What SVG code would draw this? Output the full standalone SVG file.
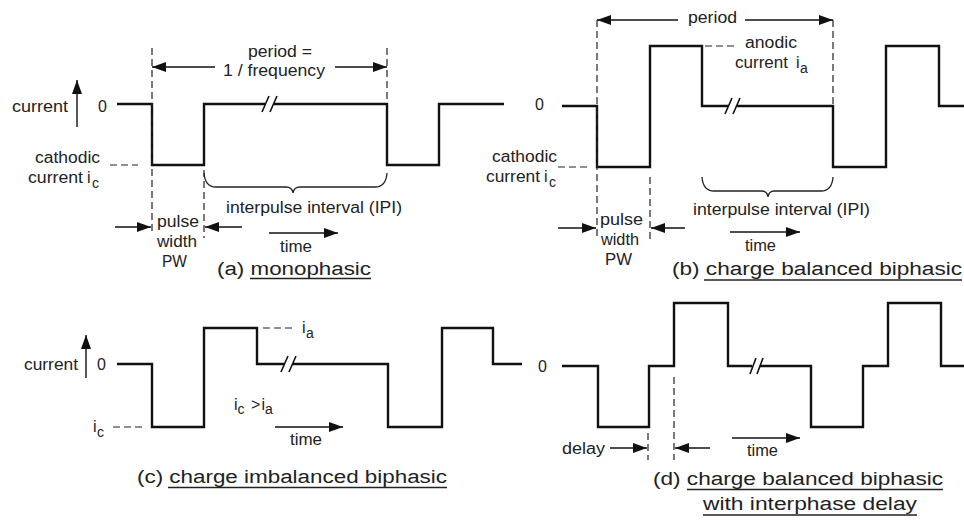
<svg xmlns="http://www.w3.org/2000/svg" width="964" height="522" viewBox="0 0 964 522">
<defs>
<marker id="ah" markerUnits="userSpaceOnUse" markerWidth="14" markerHeight="10" refX="14" refY="5" orient="auto">
<path d="M0,0 L14,5 L0,10 z" fill="#111"/>
</marker>
</defs>
<style>
.wave{fill:none;stroke:#111;stroke-width:2.4;stroke-linejoin:miter}
.brk{fill:none;stroke:#111;stroke-width:1.6}
.dash{fill:none;stroke:#222;stroke-width:1.2;stroke-dasharray:7 4}
.arr{fill:none;stroke:#111;stroke-width:1.4;marker-end:url(#ah)}
.brace{fill:none;stroke:#222;stroke-width:1.3}
.ul{stroke:#222;stroke-width:1.3}
text{font-family:"Liberation Sans",Arial,sans-serif;fill:#222}
.s{font-size:16px}
.sub{font-size:14px}
.lab{font-size:18px}
</style>
<rect width="964" height="522" fill="#fff"/>

<g id="panel-a">
<path class="wave" d="M117,104 H152 V165 H204 V104 H265 M274,104 H387 V165 H439 V104 H504"/>
<path class="brk" d="M262,112 L269,96 M270,112 L277,96"/>
<path class="dash" d="M152,48 V233 M387,48 V100 M204,170 V238 M110,165 H138"/>
<path class="brace" d="M204,173 Q205,187 216,187 H286 Q292,187 293,193 Q294,187 300,187 H375 Q386,187 387,173"/>
<text class="s" x="12" y="112" textLength="56" lengthAdjust="spacingAndGlyphs">current</text>
<text class="s" x="98" y="112">0</text>
<text class="s" x="248" y="57" textLength="64" lengthAdjust="spacingAndGlyphs">period =</text>
<text class="s" x="223" y="76" textLength="102" lengthAdjust="spacingAndGlyphs">1 / frequency</text>
<text class="s" x="35" y="163" textLength="65" lengthAdjust="spacingAndGlyphs">cathodic</text>
<text class="s" x="28" y="183" textLength="55" lengthAdjust="spacingAndGlyphs">current</text>
<text class="s" x="87" y="183">i</text>
<text class="sub" x="92" y="188">c</text>
<text class="s" x="226" y="213" textLength="176" lengthAdjust="spacingAndGlyphs">interpulse interval (IPI)</text>
<text class="s" x="157" y="227" textLength="42" lengthAdjust="spacingAndGlyphs">pulse</text>
<text class="s" x="157" y="247" textLength="40" lengthAdjust="spacingAndGlyphs">width</text>
<text class="s" x="162" y="267" textLength="25" lengthAdjust="spacingAndGlyphs">PW</text>
<text class="s" x="280" y="252" textLength="32" lengthAdjust="spacingAndGlyphs">time</text>
<text class="lab" x="217" y="275" textLength="154" lengthAdjust="spacingAndGlyphs">(a) monophasic</text>
<line class="ul" x1="250" y1="278.5" x2="371" y2="278.5"/>
</g>

<g id="panel-b">
<path class="wave" d="M562,106 H597 V167 H650 V46 H702 V106 H728 M737,106 H833 V167 H886 V46 H939 V106 H964"/>
<path class="brk" d="M725,114 L732,98 M733,114 L740,98"/>
<path class="dash" d="M597,20 V240 M833,20 V106 M650,177 V240 M558,167 H588 M705,46 H737"/>
<path class="brace" d="M702,177 Q703,191 714,191 H762 Q767,191 768,197 Q769,191 774,191 H821 Q832,191 833,177"/>
<text class="s" x="688" y="23" textLength="49" lengthAdjust="spacingAndGlyphs">period</text>
<text class="s" x="745" y="48" textLength="52" lengthAdjust="spacingAndGlyphs">anodic</text>
<text class="s" x="735" y="68" textLength="53" lengthAdjust="spacingAndGlyphs">current</text>
<text class="s" x="796" y="68">i</text>
<text class="sub" x="800" y="73">a</text>
<text class="s" x="535" y="110">0</text>
<text class="s" x="492" y="162" textLength="65" lengthAdjust="spacingAndGlyphs">cathodic</text>
<text class="s" x="486" y="182" textLength="54" lengthAdjust="spacingAndGlyphs">current</text>
<text class="s" x="544" y="182">i</text>
<text class="sub" x="549" y="187">c</text>
<text class="s" x="693" y="215" textLength="177" lengthAdjust="spacingAndGlyphs">interpulse interval (IPI)</text>
<text class="s" x="600" y="225" textLength="43" lengthAdjust="spacingAndGlyphs">pulse</text>
<text class="s" x="601" y="245" textLength="38" lengthAdjust="spacingAndGlyphs">width</text>
<text class="s" x="605" y="265" textLength="27" lengthAdjust="spacingAndGlyphs">PW</text>
<text class="s" x="745" y="251" textLength="31" lengthAdjust="spacingAndGlyphs">time</text>
<text class="lab" x="672" y="275" textLength="290" lengthAdjust="spacingAndGlyphs">(b) charge balanced biphasic</text>
<line class="ul" x1="704" y1="280" x2="962" y2="280"/>
</g>

<g id="panel-c">
<path class="wave" d="M117,364 H152 V427 H204 V328 H257 V364 H284 M293,364 H388 V427 H442 V328 H493 V364 H522"/>
<path class="brk" d="M281,372 L288,356 M289,372 L296,356"/>
<path class="dash" d="M263,328 H293 M113,427 H145"/>
<text class="s" x="24" y="370" textLength="54" lengthAdjust="spacingAndGlyphs">current</text>
<text class="s" x="97" y="370">0</text>
<text class="s" x="302" y="333">i</text>
<text class="sub" x="306" y="338">a</text>
<text class="s" x="93" y="432">i</text>
<text class="sub" x="97" y="437">c</text>
<text class="s" x="234" y="410">i</text>
<text class="sub" x="237.5" y="414">c</text>
<text class="s" x="251" y="410">&gt;</text>
<text class="s" x="261.5" y="410">i</text>
<text class="sub" x="265" y="414">a</text>
<text class="s" x="290" y="445" textLength="32" lengthAdjust="spacingAndGlyphs">time</text>
<text class="lab" x="137" y="483" textLength="310" lengthAdjust="spacingAndGlyphs">(c) charge imbalanced biphasic</text>
<line class="ul" x1="168" y1="487.5" x2="447" y2="487.5"/>
</g>

<g id="panel-d">
<path class="wave" d="M562,366 H598 V427 H649 V366 H674 V303 H728 V366 H752 M760,366 H811 V427 H863 V366 H888 V303 H941 V366 H964"/>
<path class="brk" d="M750,374 L756,358 M757,374 L763,358"/>
<path class="dash" d="M648,433 V460 M674,377 V460"/>
<text class="s" x="538" y="372">0</text>
<text class="s" x="562" y="454" textLength="43" lengthAdjust="spacingAndGlyphs">delay</text>
<text class="s" x="747" y="456" textLength="31" lengthAdjust="spacingAndGlyphs">time</text>
<text class="lab" x="653" y="485" textLength="290" lengthAdjust="spacingAndGlyphs">(d) charge balanced biphasic</text>
<line class="ul" x1="687" y1="489.5" x2="943" y2="489.5"/>
<text class="lab" x="703" y="510" textLength="214" lengthAdjust="spacingAndGlyphs">with interphase delay</text>
<line class="ul" x1="703" y1="515" x2="917" y2="515"/>
</g>

<g id="connectors">
<line class="arr" x1="77" y1="127" x2="77" y2="80"/>
<line class="arr" x1="215" y1="67" x2="152" y2="67"/>
<line class="arr" x1="335" y1="67" x2="387" y2="67"/>
<line class="arr" x1="115" y1="227" x2="151" y2="227"/>
<line class="arr" x1="242" y1="227" x2="205" y2="227"/>
<line class="arr" x1="269" y1="233" x2="338" y2="233"/>
<line class="arr" x1="678" y1="20" x2="597" y2="20"/>
<line class="arr" x1="745" y1="20" x2="833" y2="20"/>
<line class="arr" x1="558" y1="228" x2="596" y2="228"/>
<line class="arr" x1="685" y1="228" x2="651" y2="228"/>
<line class="arr" x1="730" y1="232" x2="800" y2="232"/>
<line class="arr" x1="86" y1="378" x2="86" y2="335"/>
<line class="arr" x1="275" y1="427" x2="343" y2="427"/>
<line class="arr" x1="610" y1="448" x2="647" y2="448"/>
<line class="arr" x1="710" y1="448" x2="675" y2="448"/>
<line class="arr" x1="732" y1="438" x2="800" y2="438"/>
</g>
</svg>
